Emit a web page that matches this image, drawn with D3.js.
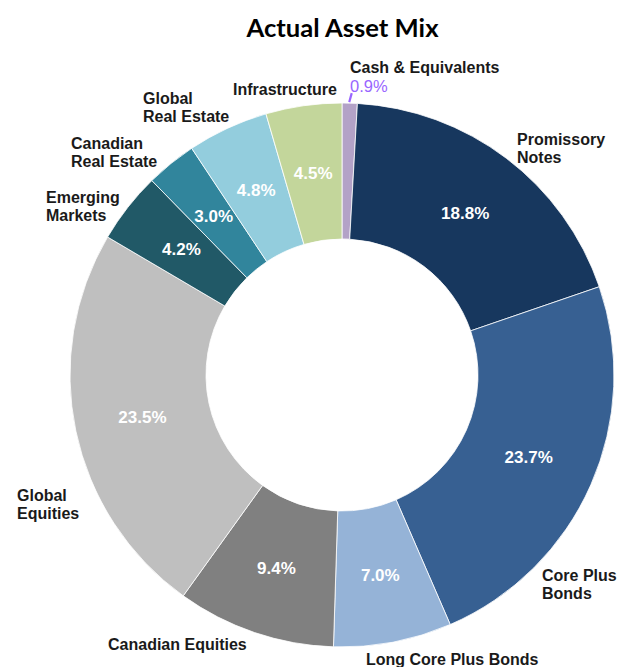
<!DOCTYPE html>
<html>
<head>
<meta charset="utf-8">
<script src="https://cdn.jsdelivr.net/npm/d3@7"></script>
<style>
  html, body { margin: 0; padding: 0; background: #ffffff; }
  svg { display: block; }
</style>
</head>
<body>
<svg id="chart" width="621" height="667"></svg>
<script>
// ---- Data (clockwise from 12 o'clock) ----
const categories = [
  "Cash & Equivalents", "Promissory Notes", "Core Plus Bonds", "Long Core Plus Bonds",
  "Canadian Equities", "Global Equities", "Emerging Markets", "Canadian Real Estate",
  "Global Real Estate", "Infrastructure"
];
const values = [0.9, 18.8, 23.7, 7.0, 9.4, 23.5, 4.2, 3.0, 4.8, 4.5];
const valueLabels = ["0.9%", "18.8%", "23.7%", "7.0%", "9.4%", "23.5%", "4.2%", "3.0%", "4.8%", "4.5%"];
const categoryLines = [
  ["Cash & Equivalents"], ["Promissory", "Notes"], ["Core Plus", "Bonds"], ["Long Core Plus Bonds"],
  ["Canadian Equities"], ["Global", "Equities"], ["Emerging", "Markets"], ["Canadian", "Real Estate"],
  ["Global", "Real Estate"], ["Infrastructure"]
];
const title = "Actual Asset Mix";

// ---- Styling / layout ----
const colors = ["#b3a2c7", "#17375e", "#376092", "#95b3d7", "#808080",
                "#bfbfbf", "#215967", "#31859c", "#93cddd", "#c3d69b"];
const cx = 342, cy = 375, outerR = 272, innerR = 136;
// label anchor offsets relative to chart centre (left edge of text, first baseline)
const labelPos = [
  [8, -302], [175, -230], [200, 206], [24, 290],
  [-234, 275], [-325, 126], [-296, -172], [-271, -226],
  [-199, -271], [-5, -280]
];
const labelAnchor = ["start", "start", "start", "start", "start", "start", "start", "start", "start", "end"];
const lineH = 18;

const svg = d3.select("#chart");

svg.append("text")
  .attr("x", 342.5).attr("y", 37)
  .attr("text-anchor", "middle")
  .attr("font-family", "Lato, 'Open Sans', sans-serif")
  .attr("font-weight", "bold")
  .attr("font-size", 24)
  .attr("textLength", 192)
  .attr("lengthAdjust", "spacingAndGlyphs")
  .attr("fill", "#000")
  .text(title);

const data = categories.map((c, i) => ({ name: c, value: values[i], i }));
const pie = d3.pie().value(d => d.value).sort(null).startAngle(0).endAngle(2 * Math.PI);
const arcs = pie(data);
const arc = d3.arc().innerRadius(innerR).outerRadius(outerR);

const g = svg.append("g").attr("transform", `translate(${cx},${cy})`);

g.selectAll("path.slice")
  .data(arcs)
  .join("path")
  .attr("class", "slice")
  .attr("d", arc)
  .attr("fill", d => colors[d.data.i])
  .attr("stroke", "#ffffff")
  .attr("stroke-width", 0.8);

// value labels inside slices (skip the tiny cash slice)
g.selectAll("text.val")
  .data(arcs.filter(d => d.data.i !== 0))
  .join("text")
  .attr("class", "val")
  .attr("transform", d => `translate(${arc.centroid(d)})`)
  .attr("text-anchor", "middle")
  .attr("dy", "0.36em")
  .attr("font-family", "'Liberation Sans', Arial, sans-serif")
  .attr("font-weight", "bold")
  .attr("font-size", 17)
  .attr("fill", "#ffffff")
  .text(d => valueLabels[d.data.i]);

// category labels
categories.forEach((c, i) => {
  const t = g.append("text")
    .attr("x", labelPos[i][0]).attr("y", labelPos[i][1])
    .attr("text-anchor", labelAnchor[i])
    .attr("font-family", "'Liberation Sans', Arial, sans-serif")
    .attr("font-weight", "bold")
    .attr("font-size", 16)
    .attr("fill", "#1a1a1a");
  categoryLines[i].forEach((ln, k) => {
    t.append("tspan").attr("x", labelPos[i][0]).attr("dy", k === 0 ? 0 : lineH).text(ln);
  });
});

// cash value label outside with leader line
const cashArc = arcs[0];
const cashMid = (cashArc.startAngle + cashArc.endAngle) / 2;
const p0 = [Math.sin(cashMid) * (outerR + 1) , -Math.cos(cashMid) * (outerR + 1)];
g.append("line")
  .attr("x1", p0[0] - 0.5).attr("y1", p0[1])
  .attr("x2", p0[0] + 2).attr("y2", p0[1] - 9)
  .attr("stroke", "#9966ff").attr("stroke-width", 2.2);
g.append("text")
  .attr("x", 8).attr("y", -283)
  .attr("font-family", "'Liberation Sans', Arial, sans-serif")
  .attr("font-size", 16.5)
  .attr("fill", "#9966ff")
  .text(valueLabels[0]);
</script>
</body>
</html>
